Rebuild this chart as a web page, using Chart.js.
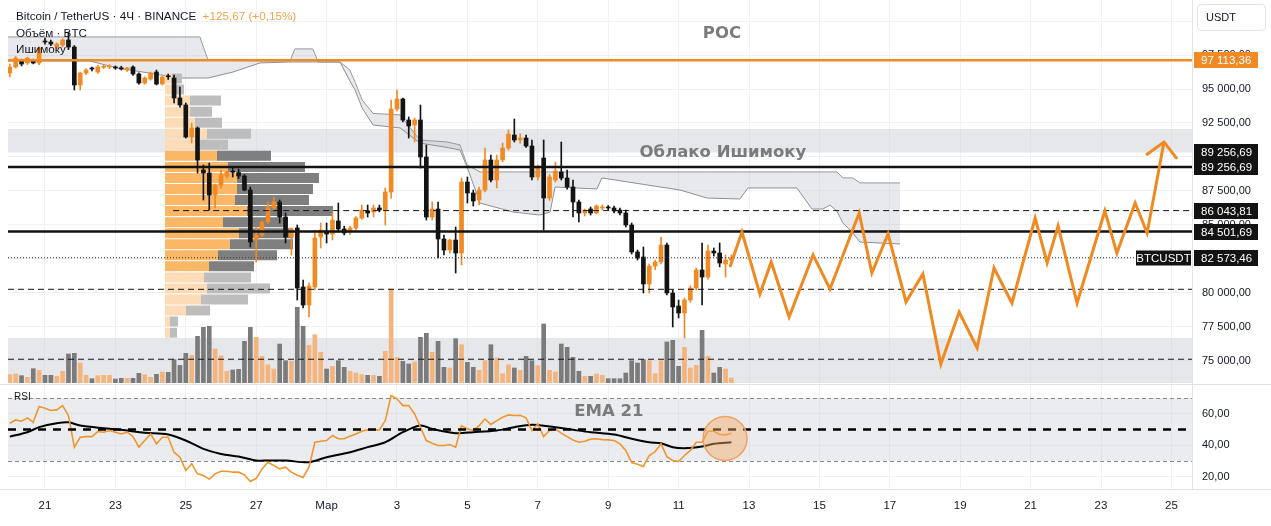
<!DOCTYPE html>
<html lang="ru">
<head>
<meta charset="UTF-8">
<title>BTCUSDT 4Ч</title>
<script src="https://cdn.jsdelivr.net/npm/chart.js@4"></script>
<style>
    html, body { margin: 0; padding: 0; background: #fff; }
    body { width: 1271px; height: 526px; position: relative; overflow: hidden; font-family: 'Liberation Sans', Arial, sans-serif; }
    #main { position: absolute; left: 0; top: 0; }
    #rsi { position: absolute; left: 0; top: 384px; }
    .legend { position: absolute; left: 16px; font-size: 11.7px; line-height: 14px; color: #131722; white-space: nowrap; }
    .legend .chg { color: #f2a44c; margin-left: 3px; }
</style>
</head>
<body>
<canvas id="main" width="1271" height="384"></canvas>
<canvas id="rsi" width="1271" height="142"></canvas>
<div class="legend" style="top:9px">Bitcoin / TetherUS · 4Ч · BINANCE <span class="chg">+125,67 (+0,15%)</span></div>
<div class="legend" style="top:26px">Объём · BTC</div>
<div class="legend" style="top:42px">Ишимоку</div>

<script>
// x axis is in days, day 0 = 21 Feb 00:00; candles are 4h
const firstCandleDay = -1;
const candleStep = 1 / 6;
const tickDays = [0, 2, 4, 6, 8, 10, 12, 14, 16, 18, 20, 22, 24, 26, 28, 30, 32];
const tickLabels = ['21', '23', '25', '27', 'Мар', '3', '5', '7', '9', '11', '13', '15', '17', '19', '21', '23', '25'];
const priceTicks = [75000, 77500, 80000, 82500, 85000, 87500, 90000, 92500, 95000, 97500, 100000];
const rsiTicks = [20, 40, 60];

// BTCUSDT 4h candles, 20 Feb - 12 Mar
const opens = [
    96178, 96620, 97062, 96915, 97062, 96915, 98535, 98461, 98093, 98240,
    98608, 98093, 95295, 96178, 96500, 96252, 96600, 96620, 96620, 96560,
    96399, 96620, 96105, 95442, 95736, 96252, 95368, 95950, 95810, 94337,
    93822, 91465, 92128, 89035, 88814, 87194, 87931, 88593, 88888, 88850,
    88593, 87562, 83880, 84249, 85206, 86237, 86679, 85574, 84101, 84764,
    80419, 79094, 80419, 84101, 84543, 84322, 85280, 84690, 84470, 84764,
    85501, 86016, 85942, 86237, 86090, 87415, 93527, 94264, 92717, 92349,
    92717, 89992, 85574, 86163, 83954, 83144, 83880, 82923, 88151, 87342,
    86826, 87562, 89772, 88299, 89772, 90655, 91613, 91244, 91392, 90802,
    88520, 89919, 86974, 88299, 88888, 88446, 87783, 86679, 85869, 86163,
    85869, 86237, 86260, 86237, 86090, 85869, 84985, 82997, 82628, 80640,
    81965, 82260, 83512, 79977, 79020, 78505, 79462, 80345, 81671, 81155,
    83070, 82923, 82113, 82407
];
const highs = [
    96841, 97400, 97200, 97350, 97200, 98100, 98750, 98600, 98400, 98700,
    99197, 98200, 96250, 96500, 96620, 96750, 96800, 96800, 96700, 96680,
    96600, 96700, 96200, 95900, 96250, 96400, 95950, 96100, 96031, 95150,
    93970, 92500, 92200, 89400, 89550, 88000, 89035, 88960, 89180, 89100,
    88700, 87780, 84840, 85300, 86680, 87050, 86830, 85870, 84764, 84985,
    80934, 80713, 84617, 85132, 85132, 85869, 86605, 84900, 84900, 85600,
    86458, 86458, 86458, 86450, 87710, 94190, 94926, 94340, 92940, 92860,
    93820, 90880, 86680, 86680, 84250, 83950, 84838, 88446, 88520, 87560,
    87780, 90655, 90140, 90140, 91020, 91981, 92791, 91700, 91600, 91244,
    89400, 91244, 88700, 89624, 91097, 89035, 88299, 86826, 86163, 86310,
    86458, 86458, 86420, 86384, 86237, 86090, 85132, 83144, 83365, 82113,
    82400, 84101, 83660, 80198, 79462, 79610, 80500, 81818, 83660, 83512,
    83291, 83660, 82776, 82776
];
const lows = [
    95884, 96550, 96700, 96800, 96850, 96800, 98300, 98200, 97950, 98100,
    97900, 94926, 94926, 96050, 96330, 96150, 96500, 96500, 96450, 96400,
    96300, 96000, 95350, 95350, 95650, 95295, 95300, 95700, 93969, 93670,
    91390, 91020, 88810, 86826, 86090, 86240, 87700, 88450, 88520, 88400,
    87500, 83365, 82260, 84100, 85100, 86100, 85130, 83660, 82776, 79462,
    78873, 78210, 80200, 83290, 83660, 83880, 84470, 84250, 84300, 84650,
    85400, 85574, 85574, 85950, 84985, 86970, 93380, 92570, 91390, 91100,
    89180, 85350, 85350, 82555, 82776, 82920, 81450, 82039, 86605, 86384,
    86458, 87415, 88151, 87710, 89624, 90508, 91097, 91000, 90700, 88299,
    88300, 84617, 86800, 88151, 88299, 87630, 85574, 85206, 85650, 85720,
    85790, 86090, 86100, 85869, 85722, 84838, 82850, 82407, 79977, 79977,
    81700, 82113, 79830, 77474, 78137, 76664, 79300, 80198, 79094, 81000,
    82700, 81900, 81155, 82200
];
const closes = [
    96620, 97283, 96841, 97283, 96915, 98019, 98461, 98314, 98314, 98608,
    98093, 95295, 96178, 96399, 96473, 96620, 96640, 96650, 96546, 96473,
    96546, 96105, 95442, 95810, 96178, 95368, 95884, 95900, 94337, 93822,
    91465, 92128, 89772, 88814, 87194, 87931, 88667, 88888, 88870, 88593,
    87562, 83733, 84249, 85206, 86310, 86679, 85574, 84101, 84690, 80345,
    79094, 80493, 84028, 84617, 84322, 85353, 84690, 84396, 84764, 85501,
    86090, 85869, 86237, 86090, 87415, 93527, 94264, 92717, 92275, 92717,
    89992, 85574, 86163, 83954, 83144, 83880, 82923, 88151, 87342, 86752,
    87562, 89772, 88299, 89772, 90655, 91686, 91244, 91392, 90802, 88520,
    89256, 86974, 88520, 88962, 88446, 87783, 86679, 85869, 86090, 85869,
    86384, 86310, 86237, 86016, 85869, 84985, 82997, 82555, 80640, 81965,
    82260, 83512, 79977, 78946, 78505, 79462, 80345, 81671, 81155, 83070,
    82923, 82186, 82407, 82573
];
const volumes = [
    8.3, 9, 7.3, 5.7, 14.3, 12.7, 7.7, 7.7, 6.7, 11.7,
    29, 29.7, 20, 7.7, 4.3, 7.3, 7.7, 7.7, 4, 4.7,
    4.7, 4.7, 9.7, 8.3, 5.7, 8.7, 11, 10.7, 23.3, 17.7,
    29.7, 27.7, 46.7, 55.7, 56.7, 34, 27.3, 11.7, 13, 13.7,
    41.7, 55.7, 45.7, 26.7, 18.3, 14, 39, 22.3, 21.7, 75.7,
    56.7, 37.7, 48.3, 30.7, 14, 16.7, 22.3, 15.7, 11.7, 10,
    8.3, 7.7, 7.7, 6.7, 31.7, 94, 25.7, 21.7, 19, 21,
    45.7, 49.7, 30.7, 41.7, 15.7, 15, 44.3, 38.3, 20.7, 15.7,
    12.7, 22.3, 38.3, 25, 9.3, 18.3, 15, 12.7, 26.7, 22.3,
    17.3, 59, 12.7, 11, 39, 35.7, 25.7, 11.7, 6.7, 6.7,
    9, 7.7, 4.3, 4.3, 4.3, 10, 22.3, 20, 23.3, 22.3,
    9.3, 22.3, 41, 42.7, 16.7, 35.7, 15, 17.7, 52.7, 26.7,
    10, 15.7, 14, 5
];
const rsi = [
    54.0, 56.1, 55.3, 57.4, 54.6, 64.6, 63.5, 62.1, 62.5, 65.2,
    58.9, 38.8, 45.1, 45.5, 45.5, 48.7, 48.3, 49.4, 48.3, 47.2,
    48.3, 45.5, 38.8, 43.0, 47.2, 40.9, 45.1, 45.1, 35.6, 32.4,
    24.0, 28.2, 21.8, 20.8, 18.5, 21.8, 23.5, 23.5, 22.9, 22.9,
    21.2, 17.0, 19.0, 25.0, 29.2, 27.1, 25.0, 26.1, 22.9, 21.0,
    19.5, 26.1, 41.9, 42.6, 43.0, 46.2, 44.1, 44.1, 45.8, 47.2,
    48.9, 49.8, 49.8, 49.8, 55.7, 71.6, 69.5, 65.2, 65.2, 59.9,
    51.5, 43.0, 41.3, 39.8, 39.8, 40.5, 38.8, 52.5, 50.4, 49.4,
    52.5, 56.8, 53.2, 55.7, 57.8, 59.3, 58.9, 59.1, 57.4, 49.4,
    53.6, 45.5, 49.4, 50.4, 47.7, 45.5, 43.4, 41.9, 42.6, 43.9,
    44.1, 43.6, 43.4, 43.0, 40.9, 36.7, 29.0, 28.0, 26.5, 33.5,
    36.0, 40.9, 32.8, 30.3, 29.7, 33.5, 36.7, 41.9, 41.9, 48.9,
    48.9, 46.8, 46.6, 47.7
];
// EMA 21 of RSI, read at these candle numbers
const emaCandle = [1, 4, 6, 9, 11, 13, 17, 20, 24, 28, 31, 34, 37, 40, 43, 45, 48, 52, 55, 59, 62, 65, 68, 71, 73, 77, 80, 84, 87, 90, 93, 97, 100, 104, 107, 110, 112, 114, 116, 119, 121, 124];
const emaValue = [45.5, 48.3, 51.5, 54.0, 54.6, 52.5, 50.8, 49.8, 47.9, 46.8, 43.0, 37.7, 34.5, 32.8, 30.3, 30.3, 30.3, 29.2, 32.4, 35.6, 38.8, 41.9, 48.3, 52.5, 50.4, 47.7, 48.3, 49.4, 51.5, 53.0, 51.9, 49.8, 48.3, 46.8, 44.1, 41.9, 41.3, 38.8, 38.1, 39.2, 40.9, 41.9];

// Ichimoku cloud
const ichiDays = [-1.05, 1.28, 2.05, 3.84, 4.40, 4.63, 5.34, 6.11, 6.96, 7.10, 7.61, 7.76, 8.38, 8.66, 8.81, 9.01, 9.32, 10.09, 10.65, 11.42, 11.79, 11.99, 12.36, 13.30, 14.06, 14.35, 14.49, 15.68, 15.82, 18.04, 18.81, 19.74, 19.97, 21.36, 21.79, 22.10, 22.30, 22.50, 22.67, 22.95, 23.15, 24.29];
const spanA = [98830, 98830, 98830, 98830, 98830, 97140, 97100, 97070, 97060, 97950, 97950, 96990, 96990, 96400, 95500, 94190, 93200, 93090, 91240, 91100, 90880, 89400, 88890, 88890, 88890, 88890, 88890, 88890, 88890, 88890, 88890, 88890, 88890, 88890, 88890, 88890, 88890, 88890, 88450, 88450, 88080, 88080];
const spanB = [97060, 97060, 96550, 95810, 95810, 95810, 96250, 96920, 96990, 96990, 96990, 96990, 96990, 95600, 94930, 93600, 92350, 92130, 91020, 90700, 90510, 89260, 86600, 85940, 85720, 85940, 87780, 87640, 88450, 87560, 86970, 86900, 87710, 87710, 86160, 86160, 86460, 86000, 85130, 84400, 83730, 83590];

// visible range volume profile
const profileStartDay = 3.41;
const profilePrices = [95773, 94960, 94146, 93332, 92518, 91705, 90891, 90077, 89263, 88450, 87636, 86822, 86008, 85195, 84381, 83567, 82753, 81940, 81126, 80312, 79498, 78685, 77871, 77057];
const profileUp = [7, 10, 25, 25, 30, 42, 35, 52, 63, 72, 72, 70, 82, 58, 74, 65, 53, 44, 39, 42, 36, 21, 5, 5];
const profileDown = [10, 9, 31, 22, 27, 44, 28, 54, 77, 82, 76, 74, 86, 65, 54, 63, 59, 45, 47, 63, 47, 24, 8, 7];
const valueArea = [81940, 90077];

// drawn projection
const zigDays = [19.46, 19.80, 20.31, 20.63, 21.14, 21.82, 22.30, 23.13, 23.49, 23.95, 24.46, 24.94, 25.45, 25.97, 26.48, 26.96, 27.47, 28.13, 28.47, 28.78, 29.32, 30.11, 30.45, 30.97, 31.31, 31.79];
const zigPrices = [81890, 84470, 79900, 82260, 78210, 82780, 80270, 85870, 81450, 84320, 79320, 81380, 74750, 78580, 75930, 81820, 79240, 85500, 82190, 84910, 79240, 86020, 82920, 86610, 84400, 91100];
const arrowDays = [31.28, 31.79, 32.16];
const arrowPrices = [90140, 91100, 89850];

// levels and zones
const pocPrice = 97113.36;
const solidLevels = [89256.69, 84501.69];
const dashedLevels = [80250, 75100];
const profilePocPrice = 86043.81;
const lastPrice = 82573.46;
const zones = [[92055, 90324], [76664, 73350]];

const X_MIN = -1.051, X_MAX = 32.585;
const PRICE_MIN = 73350, PRICE_MAX = 101554;
const RSI_MIN = 12.2, RSI_MAX = 78.3;

const ORANGE = '#f08a24';
const BLACK = '#131313';
const GRID = '#f0f1f4';
const AXIS_LINE = '#e0e3eb';
const profileDaysPerUnit = 0.0284;

Chart.defaults.font.family = "'Liberation Sans', Arial, sans-serif";
Chart.defaults.color = '#131722';

function fmt(v) {
    const parts = v.toFixed(2).split('.');
    return parts[0].replace(/\B(?=(\d{3})+(?!\d))/g, ' ') + ',' + parts[1];
}

// keep the plot area flush with the canvas edges
function rightAxisFit(s) {
    s.width = 79;
    s.paddingTop = 0;
    s.paddingBottom = 0;
}

const candleDays = opens.map((_, i) => firstCandleDay + i * candleStep);
const isUp = closes.map((c, i) => c >= opens[i]);
const candleColors = isUp.map(u => u ? ORANGE : BLACK);

function hLine(price, from, to, color, width, dash, order) {
    return {
        data: [{ x: from, y: price }, { x: to, y: price }],
        borderColor: color, borderWidth: width, borderDash: dash || [],
        pointRadius: 0, fill: false, order: order || 20
    };
}

// profile rows as thick horizontal segments
function profileRows(inVA, part) {
    const pts = [];
    profilePrices.forEach((p, k) => {
        const va = p >= valueArea[0] && p <= valueArea[1];
        if (va !== inVA) return;
        const mid = profileStartDay + profileUp[k] * profileDaysPerUnit;
        const from = part === 'up' ? profileStartDay : mid;
        const to = part === 'up' ? mid : mid + profileDown[k] * profileDaysPerUnit;
        pts.push({ x: from, y: p }, { x: to, y: p }, { x: to, y: null });
    });
    return pts;
}
function profileSet(inVA, part, color, order) {
    return {
        data: profileRows(inVA, part), borderColor: color, borderWidth: 10,
        borderCapStyle: 'butt', pointRadius: 0, spanGaps: false, fill: false, order: order
    };
}

const notes = [
    { text: 'POC', day: 19.23, price: 99050 },
    { text: 'Облако Ишимоку', day: 19.26, price: 90287 }
];
const tags = [
    { price: pocPrice, bg: '#f08a24' },
    { price: solidLevels[0], bg: BLACK, shift: -15 },
    { price: solidLevels[0], bg: BLACK },
    { price: profilePocPrice, bg: BLACK },
    { price: solidLevels[1], bg: BLACK },
    { price: lastPrice, bg: BLACK, name: 'BTCUSDT' }
];

const mainDecor = {
    id: 'mainDecor',
    beforeDatasetsDraw(chart) {
        const { ctx, chartArea: a, scales: { y } } = chart;
        ctx.save();
        ctx.fillStyle = 'rgba(205, 208, 216, 0.5)';
        zones.forEach(([hi, lo]) => {
            const y1 = y.getPixelForValue(hi), y2 = y.getPixelForValue(lo);
            ctx.fillRect(a.left, y1, a.right - a.left, y2 - y1);
        });
        ctx.restore();
    },
    afterDatasetsDraw(chart) {
        const { ctx, scales: { x, y } } = chart;
        ctx.save();
        ctx.font = "bold 16.5px 'DejaVu Sans'";
        ctx.fillStyle = '#7b7b7b';
        ctx.textAlign = 'center';
        ctx.textBaseline = 'middle';
        notes.forEach(n => ctx.fillText(n.text, x.getPixelForValue(n.day), y.getPixelForValue(n.price)));
        ctx.restore();
    },
    afterDraw(chart) {
        const { ctx, chartArea: a, scales: { y } } = chart;
        ctx.save();
        ctx.font = "11.5px 'Liberation Sans'";
        ctx.textBaseline = 'middle';
        tags.forEach(t => {
            const py = Math.round(y.getPixelForValue(t.price)) + (t.shift || 0);
            ctx.fillStyle = t.bg;
            ctx.fillRect(a.right + 2, py - 8, 64, 16);
            ctx.fillStyle = '#fff';
            ctx.textAlign = 'left';
            ctx.fillText(fmt(t.price), a.right + 9, py + 0.5);
            if (t.name) {
                ctx.fillStyle = t.bg;
                ctx.fillRect(a.right - 56, py - 7.5, 55, 15);
                ctx.fillStyle = '#fff';
                ctx.textAlign = 'center';
                ctx.fillText(t.name, a.right - 28.5, py + 0.5);
            }
        });
        // currency box
        ctx.fillStyle = '#fff';
        ctx.strokeStyle = AXIS_LINE;
        ctx.beginPath();
        ctx.roundRect(a.right + 5.5, 4.5, 68, 26, 4);
        ctx.fill();
        ctx.stroke();
        ctx.fillStyle = '#131722';
        ctx.textAlign = 'left';
        ctx.font = "11px 'Liberation Sans'";
        ctx.fillText('USDT', a.right + 14, 18);
        ctx.restore();
    }
};

new Chart(document.getElementById('main'), {
    type: 'line',
    data: {
        datasets: [
            {
                type: 'bar', yAxisID: 'vol',
                data: candleDays.map((d, i) => ({ x: d, y: volumes[i] })),
                backgroundColor: isUp.map(u => u ? '#f4b47e' : '#7b7b7b'),
                barThickness: 4, grouped: false, order: 60
            },
            {
                data: ichiDays.map((d, i) => ({ x: d, y: spanA[i] })),
                borderColor: '#8f8f8f', borderWidth: 1, pointRadius: 0, fill: false, order: 51
            },
            {
                data: ichiDays.map((d, i) => ({ x: d, y: spanB[i] })),
                borderColor: '#8f8f8f', borderWidth: 1, pointRadius: 0,
                fill: '-1', backgroundColor: 'rgba(190, 193, 202, 0.35)', order: 50
            },
            profileSet(false, 'up', '#fbdcb6', 44),
            profileSet(false, 'down', '#bdbdbd', 43),
            profileSet(true, 'up', '#fab765', 42),
            profileSet(true, 'down', '#7f7f7f', 41),
            {
                type: 'bar',
                data: candleDays.map((d, i) => ({ x: d, y: [lows[i], highs[i]] })),
                backgroundColor: candleColors, barThickness: 1, grouped: false, order: 31
            },
            {
                type: 'bar',
                data: candleDays.map((d, i) => ({ x: d, y: [opens[i], closes[i]] })),
                backgroundColor: candleColors, barThickness: 4, minBarLength: 1,
                grouped: false, order: 30
            },
            hLine(pocPrice, X_MIN, X_MAX, '#f08a24', 2.5),
            hLine(solidLevels[0], X_MIN, X_MAX, BLACK, 2.5),
            hLine(solidLevels[1], X_MIN, X_MAX, BLACK, 2.5),
            hLine(profilePocPrice, 3.64, X_MAX, BLACK, 1, [6, 4]),
            hLine(dashedLevels[0], X_MIN, X_MAX, BLACK, 1, [6, 4]),
            hLine(dashedLevels[1], X_MIN, X_MAX, BLACK, 1, [6, 4]),
            hLine(lastPrice, X_MIN, X_MAX, '#333', 1, [1, 2]),
            {
                data: zigDays.map((d, i) => ({ x: d, y: zigPrices[i] })),
                borderColor: '#ef8a22', borderWidth: 3, pointRadius: 0,
                borderJoinStyle: 'miter', fill: false, order: 10
            },
            {
                data: arrowDays.map((d, i) => ({ x: d, y: arrowPrices[i] })),
                borderColor: '#ef8a22', borderWidth: 3, pointRadius: 0,
                borderJoinStyle: 'miter', fill: false, order: 9
            }
        ]
    },
    options: {
        responsive: false,
        animation: false,
        events: [],
        layout: { padding: { left: 8, top: 0, right: 0, bottom: 1 } },
        plugins: { legend: { display: false }, tooltip: { enabled: false } },
        scales: {
            x: {
                type: 'linear', min: X_MIN, max: X_MAX, offset: false,
                afterBuildTicks: s => { s.ticks = tickDays.map(v => ({ value: v })); },
                afterFit: s => { s.height = 0; s.paddingLeft = 0; s.paddingRight = 0; },
                ticks: { display: false },
                grid: { color: GRID, drawTicks: false, offset: false },
                border: { display: false }
            },
            y: {
                position: 'right', min: PRICE_MIN, max: PRICE_MAX,
                afterBuildTicks: s => { s.ticks = priceTicks.map(v => ({ value: v })); },
                afterFit: rightAxisFit,
                ticks: { callback: v => fmt(v), font: { size: 11 }, padding: 10, autoSkip: false },
                grid: { color: GRID, drawTicks: false },
                border: { color: AXIS_LINE }
            },
            vol: { axis: 'y', type: 'linear', display: false, min: 0, max: 383 }
        }
    },
    plugins: [mainDecor]
});

// RSI pane
const rsiDecor = {
    id: 'rsiDecor',
    beforeDatasetsDraw(chart) {
        const { ctx, chartArea: a, scales: { y } } = chart;
        const y70 = y.getPixelForValue(70), y30 = y.getPixelForValue(30);
        ctx.save();
        ctx.fillStyle = 'rgba(205, 208, 216, 0.4)';
        ctx.fillRect(a.left, y70, a.right - a.left, y30 - y70);
        ctx.strokeStyle = '#8a8a8a';
        ctx.lineWidth = 1;
        ctx.setLineDash([4, 3]);
        [y70, y30].forEach(py => {
            ctx.beginPath();
            ctx.moveTo(a.left, Math.round(py) + 0.5);
            ctx.lineTo(a.right, Math.round(py) + 0.5);
            ctx.stroke();
        });
        ctx.restore();
    },
    afterDatasetsDraw(chart) {
        const { ctx, chartArea: a, scales: { x, y } } = chart;
        ctx.save();
        ctx.strokeStyle = '#000';
        ctx.lineWidth = 2.5;
        ctx.setLineDash([8, 7]);
        const y50 = y.getPixelForValue(50);
        ctx.beginPath();
        ctx.moveTo(a.left, y50);
        ctx.lineTo(a.right, y50);
        ctx.stroke();
        ctx.setLineDash([]);
        // marked spot
        ctx.beginPath();
        ctx.arc(x.getPixelForValue(19.32), y.getPixelForValue(44.3), 22, 0, Math.PI * 2);
        ctx.fillStyle = 'rgba(244, 170, 100, 0.45)';
        ctx.fill();
        ctx.strokeStyle = '#f0a060';
        ctx.lineWidth = 1.5;
        ctx.stroke();
        ctx.font = "bold 16.5px 'DejaVu Sans'";
        ctx.fillStyle = '#7b7b7b';
        ctx.textAlign = 'center';
        ctx.textBaseline = 'middle';
        ctx.fillText('EMA 21', x.getPixelForValue(16.02), y.getPixelForValue(61.4));
        ctx.font = "10px 'Liberation Sans'";
        ctx.fillStyle = '#131722';
        ctx.textAlign = 'left';
        ctx.fillText('RSI', a.left + 6, y.getPixelForValue(70) - 1);
        // pane borders
        ctx.strokeStyle = AXIS_LINE;
        ctx.lineWidth = 1;
        ctx.beginPath();
        ctx.moveTo(0, 0.5);
        ctx.lineTo(chart.width, 0.5);
        ctx.moveTo(0, Math.round(a.bottom) + 0.5);
        ctx.lineTo(chart.width, Math.round(a.bottom) + 0.5);
        ctx.stroke();
        ctx.restore();
    }
};

new Chart(document.getElementById('rsi'), {
    type: 'line',
    data: {
        datasets: [
            {
                data: emaCandle.map((c, i) => ({ x: firstCandleDay + (c - 1) * candleStep, y: emaValue[i] })),
                borderColor: '#000', borderWidth: 2, pointRadius: 0, fill: false, tension: 0.3, order: 2
            },
            {
                data: candleDays.map((d, i) => ({ x: d, y: rsi[i] })),
                borderColor: '#f0962f', borderWidth: 1.6, pointRadius: 0, fill: false, order: 1
            }
        ]
    },
    options: {
        responsive: false,
        animation: false,
        events: [],
        layout: { padding: { left: 8, top: 1, right: 0, bottom: 0 } },
        plugins: { legend: { display: false }, tooltip: { enabled: false } },
        scales: {
            x: {
                type: 'linear', min: X_MIN, max: X_MAX, offset: false,
                afterBuildTicks: s => { s.ticks = tickDays.map(v => ({ value: v })); },
                afterFit: s => { s.height = 37; s.paddingLeft = 0; s.paddingRight = 0; },
                ticks: {
                    callback: v => tickLabels[tickDays.indexOf(v)],
                    maxRotation: 0, autoSkip: false, padding: 10, font: { size: 11.5 }
                },
                grid: { color: GRID, drawTicks: false, offset: false },
                border: { display: false }
            },
            y: {
                position: 'right', min: RSI_MIN, max: RSI_MAX,
                afterBuildTicks: s => { s.ticks = rsiTicks.map(v => ({ value: v })); },
                afterFit: rightAxisFit,
                ticks: { callback: v => fmt(v), font: { size: 11 }, padding: 10 },
                grid: { color: GRID, drawTicks: false },
                border: { color: AXIS_LINE }
            }
        }
    },
    plugins: [rsiDecor]
});
</script>
</body>
</html>
